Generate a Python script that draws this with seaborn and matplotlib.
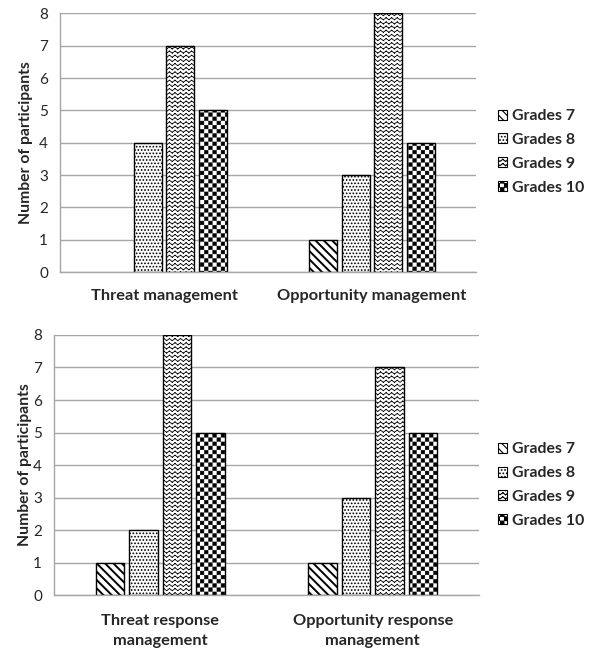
import warnings

import matplotlib
matplotlib.use("Agg")
import matplotlib.hatch as mhatch
import matplotlib.pyplot as plt
import numpy as np
import pandas as pd
import seaborn as sns
from matplotlib.patches import Patch
from matplotlib.path import Path

warnings.filterwarnings("ignore", message=".*hatch must consist.*")

grades = ["Grades 7", "Grades 8", "Grades 9", "Grades 10"]

top_categories = ["Threat management", "Opportunity management"]
top_grade7 = [0, 1]
top_grade8 = [4, 3]
top_grade9 = [7, 8]
top_grade10 = [5, 4]

bottom_categories = ["Threat response\nmanagement", "Opportunity response\nmanagement"]
bottom_grade7 = [1, 1]
bottom_grade8 = [2, 3]
bottom_grade9 = [8, 7]
bottom_grade10 = [5, 5]

y_ticks = [0, 1, 2, 3, 4, 5, 6, 7, 8]

# hatch per grade: stripes, dots, zigzag (custom 'z'), checkerboard (custom 'k')
hatches = ["\\\\\\\\", ".....", "zzzz", "kkkk"]
hatch_widths = [1.4, 0.8, 0.6, 0.4]


class ZigzagHatch(mhatch.HatchPatternBase):
    def __init__(self, hatch, density):
        self.rows = hatch.count("z") * density
        self.cols = self.rows * 3 // 4
        self.num_vertices = self.rows * self.cols * 4

    def set_vertices_and_codes(self, vertices, codes):
        step_y = 1.0 / self.rows
        step_x = 1.0 / self.cols
        amp = step_y * 0.25
        i = 0
        for r in range(self.rows):
            y = (r + 0.5) * step_y
            for c in range(self.cols):
                x0 = c * step_x
                pts = [(x0, y - amp), (x0 + step_x / 2, y + amp),
                       (x0 + step_x / 2, y + amp), (x0 + step_x, y - amp)]
                vertices[i:i + 4] = pts
                codes[i:i + 4] = [Path.MOVETO, Path.LINETO, Path.MOVETO, Path.LINETO]
                i += 4


class CheckerHatch(mhatch.HatchPatternBase):
    def __init__(self, hatch, density):
        self.n = hatch.count("k") * density
        self.num_vertices = (self.n * self.n // 2) * 5

    def set_vertices_and_codes(self, vertices, codes):
        s = 1.0 / self.n
        inset = 0.003
        i = 0
        for r in range(self.n):
            for c in range(self.n):
                if (r + c) % 2:
                    continue
                x0, y0 = c * s + inset, r * s + inset
                x1, y1 = (c + 1) * s - inset, (r + 1) * s - inset
                vertices[i:i + 5] = [(x0, y0), (x1, y0), (x1, y1), (x0, y1), (x0, y0)]
                codes[i:i + 5] = [Path.MOVETO, Path.LINETO, Path.LINETO, Path.LINETO, Path.CLOSEPOLY]
                i += 5


mhatch._hatch_types.append(ZigzagHatch)
mhatch._hatch_types.append(CheckerHatch)


def to_long(categories, series):
    rows = []
    for grade, values in zip(grades, series):
        for cat, v in zip(categories, values):
            rows.append([cat, grade, v])
    return pd.DataFrame(rows, columns=["category", "grade", "participants"])


def draw_panel(ax, categories, series, label_x, xpad):
    df = to_long(categories, series)
    sns.barplot(data=df, x="category", y="participants", hue="grade",
                order=categories, hue_order=grades, palette=["white"] * 4,
                edgecolor="black", linewidth=1.0, width=0.63, gap=0.14,
                errorbar=None, legend=False, ax=ax)
    for container, hatch, hw in zip(ax.containers, hatches, hatch_widths):
        for bar in container:
            bar.set_hatch(hatch)
            if hasattr(bar, "set_hatch_linewidth"):
                bar.set_hatch_linewidth(hw)
            if bar.get_height() == 0:
                bar.set_visible(False)

    ax.set_xlim(-0.5, 1.5)
    ax.set_ylim(0, 8)
    ax.set_yticks(y_ticks)
    ax.set_xlabel("")
    ax.set_ylabel("Number of participants", fontsize=11.3, fontweight="bold")
    ax.yaxis.set_label_coords(label_x, 0.5)
    ax.grid(axis="y", color="#a6a6a6", linewidth=1.0)
    ax.grid(axis="x", visible=False)
    ax.set_axisbelow(True)
    for side in ["top", "right"]:
        ax.spines[side].set_visible(False)
    for side in ["left", "bottom"]:
        ax.spines[side].set_color("#a6a6a6")
        ax.spines[side].set_linewidth(1.0)
    ax.tick_params(axis="y", length=3.6, width=1.0, color="#a6a6a6", pad=5, labelsize=11)
    ax.tick_params(axis="x", length=0, pad=xpad, labelsize=11.8)
    for t in ax.get_xticklabels():
        t.set_fontweight("bold")
        t.set_linespacing(1.5)


def add_legend(fig, y):
    handles = [Patch(facecolor="white", edgecolor="black", hatch=h, linewidth=0.8) for h in hatches]
    fig.legend(handles, grades, loc="center left", bbox_to_anchor=(0.823, y),
               frameon=False, handlelength=0.6, handleheight=0.6,
               handletextpad=0.3, labelspacing=0.62, borderpad=0,
               prop={"weight": "bold", "size": 11.4})


sns.set_theme(style="white")
plt.rcParams["font.family"] = ["Lato", "DejaVu Sans"]
plt.rcParams["hatch.linewidth"] = 0.8

fig = plt.figure(figsize=(5.95, 6.52), dpi=100)
ax_top = fig.add_axes([0.1008, 0.5828, 0.6992, 0.3965])
ax_bottom = fig.add_axes([0.0908, 0.0874, 0.7143, 0.3988])

draw_panel(ax_top, top_categories, [top_grade7, top_grade8, top_grade9, top_grade10], -0.066, 12)
draw_panel(ax_bottom, bottom_categories, [bottom_grade7, bottom_grade8, bottom_grade9, bottom_grade10], -0.051, 14)

add_legend(fig, 0.767)
add_legend(fig, 0.256)

fig.savefig("out.png", dpi=100, facecolor="white")
